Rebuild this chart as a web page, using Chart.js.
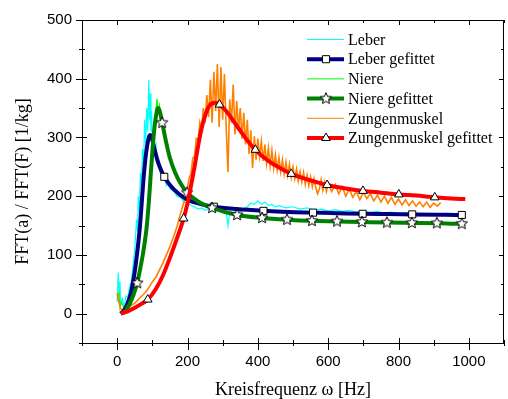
<!DOCTYPE html>
<html>
<head>
<meta charset="utf-8">
<script src="https://cdn.jsdelivr.net/npm/chart.js@4"></script>
<style>
  html, body { margin: 0; padding: 0; background: #fff; overflow: hidden; }
</style>
</head>
<body>
<canvas id="chart" width="508" height="399"></canvas>
<script>
// axis ticks
const xTicks = [0, 200, 400, 600, 800, 1000];
const xMinor = [-100, 100, 300, 500, 700, 900, 1100];
const yTicks = [0, 100, 200, 300, 400, 500];
const yMinor = [-50, 50, 150, 250, 350, 450];

// Leber (measured)
const leberX = [0, 3, 6, 8, 10, 15, 20, 25, 30, 35, 40, 45, 50, 55, 58, 60, 63, 66, 69, 72, 75, 78, 81, 84, 87, 90, 92, 94, 96, 98, 100, 103, 106, 110, 114, 118, 122, 126, 130, 135, 140, 145, 150, 160, 170, 180, 190, 200, 210, 220, 230, 240, 250, 260, 270, 280, 290, 300, 310, 315, 320, 330, 340, 350, 360, 370, 380, 390, 400, 410, 420, 430, 440, 450, 460, 480, 500, 520, 540, 560, 580, 600, 620, 640, 660, 680, 700, 720, 740, 760, 780, 800, 820, 840, 860];
const leberY = [20, 70, 30, 55, 15, 25, 12, 30, 28, 45, 55, 80, 110, 160, 140, 200, 170, 240, 210, 280, 250, 330, 290, 350, 310, 398, 330, 375, 310, 345, 295, 312, 278, 288, 258, 262, 242, 248, 228, 232, 218, 222, 212, 210, 200, 198, 190, 188, 184, 182, 178, 180, 176, 178, 175, 178, 174, 176, 172, 150, 174, 172, 176, 174, 178, 182, 188, 186, 192, 186, 190, 184, 186, 182, 184, 180, 182, 178, 180, 176, 178, 175, 177, 174, 176, 173, 175, 172, 174, 171, 173, 170, 172, 170, 171];

// Leber gefittet
const leberFitX = [10, 20, 30, 40, 50, 60, 65, 70, 75, 80, 85, 90, 94, 98, 105, 115, 125, 134, 150, 175, 200, 235, 275, 340, 416, 487, 557, 628, 698, 769, 839, 910, 980, 990];
const leberFitY = [0, 6, 18, 38, 72, 120, 150, 190, 230, 262, 285, 300, 304, 300, 283, 260, 244, 233, 219, 204, 194, 187, 182, 178, 175, 173, 172, 171, 170, 169.5, 169, 168.5, 168, 168];
const leberMarks = [134, 275, 416, 557, 698, 839, 980];

// Niere (measured)
const niereX = [0, 5, 8, 12, 20, 30, 40, 50, 57, 65, 72, 78, 84, 90, 95, 100, 105, 110, 113, 116, 120, 125, 130, 140, 150, 165, 180, 200, 230, 270, 300, 340, 400, 480, 560, 640, 720, 800, 880, 960];
const niereY = [25, 35, 10, 20, 8, 14, 25, 38, 50, 78, 100, 130, 150, 195, 240, 285, 320, 345, 366, 345, 355, 330, 318, 290, 262, 238, 220, 205, 190, 180, 175, 168, 164, 160, 158, 157, 155, 155, 154, 153];

// Niere gefittet
const niereFitX = [15, 25, 35, 45, 57, 65, 75, 84, 90, 95, 100, 105, 110, 116, 121, 128, 140, 150, 165, 180, 199, 230, 270, 341, 412, 483, 554, 625, 696, 767, 838, 909, 980, 990];
const niereFitY = [0, 6, 16, 30, 52, 75, 108, 148, 190, 233, 275, 310, 335, 350, 345, 325, 290, 265, 240, 222, 206, 191, 180, 168, 163, 160, 158, 157, 156, 155, 154.5, 154, 153, 153];
const niereMarks = [57, 128, 199, 270, 341, 412, 483, 554, 625, 696, 767, 838, 909, 980];

// Zungenmuskel (measured)
const zungeX = [0, 5, 10, 20, 30, 40, 50, 60, 70, 80, 90, 100, 110, 120, 130, 140, 150, 160, 170, 180, 190,
  200, 205, 210, 215, 220, 225, 230, 235, 240, 245, 250, 255, 260, 265, 270, 275, 280, 285, 290, 295,
  300, 305, 310, 315, 320, 325, 330, 335, 340, 345, 350, 355, 360, 365, 370, 375, 380, 385, 390, 395,
  400, 405, 410, 415, 420, 425, 430, 435, 440, 445, 450, 455, 460, 465, 470, 475, 480, 485, 490, 495,
  500, 505, 510, 515, 520, 525, 530, 535, 540, 545, 550, 555, 560, 565, 570, 575, 580, 585, 590, 595,
  600, 610, 620, 630, 640, 650, 660, 670, 680, 690, 700, 710, 720, 730, 740, 750, 760, 770, 780, 790,
  800, 810, 820, 830, 840, 850, 860, 870, 880, 890, 900, 910, 920];
const zungeY = [35, 20, 8, 6, 10, 14, 18, 24, 30, 36, 44, 54, 62, 74, 86, 100, 114, 130, 148, 170, 190,
  214, 232, 238, 265, 268, 298, 295, 325, 312, 350, 325, 372, 335, 398, 325, 412, 345, 425, 318, 420,
  330, 408, 318, 241, 365, 325, 390, 305, 362, 312, 350, 298, 342, 288, 330, 272, 312, 248, 302, 262,
  298, 268, 294, 260, 288, 256, 282, 252, 278, 248, 270, 245, 266, 242, 262, 238, 258, 236, 254, 232,
  250, 230, 246, 226, 242, 224, 240, 220, 236, 218, 233, 216, 230, 214, 204, 212, 228, 210, 224, 208,
  222, 208, 220, 204, 216, 200, 212, 198, 208, 194, 206, 196, 204, 192, 202, 190, 200, 188, 198, 186,
  195, 185, 194, 184, 192, 183, 190, 182, 190, 181, 188, 183, 189];

// Zungenmuskel gefittet
const zungeFitX = [10, 30, 50, 70, 87, 110, 130, 150, 170, 189, 200, 210, 220, 230, 240, 250, 260, 270, 280, 291, 310, 340, 370, 393, 430, 460, 495, 550, 597, 650, 699, 750, 801, 850, 903, 950, 990];
const zungeFitY = [0, 4, 10, 17, 24, 42, 65, 95, 128, 162, 188, 218, 250, 285, 315, 337, 352, 358, 359, 356, 345, 320, 295, 279, 260, 249, 238, 227, 219, 213, 209, 206, 203, 201, 198, 196, 195];
const zungeMarks = [87, 189, 291, 393, 495, 597, 699, 801, 903];

const pts = (xs, ys) => xs.map((x, i) => ({ x: x, y: ys[i] }));

function starImage(r) {
  const s = Math.ceil(r * 2 + 4);
  const c = document.createElement('canvas');
  c.width = s; c.height = s;
  const g = c.getContext('2d');
  g.beginPath();
  for (let i = 0; i < 10; i++) {
    const a = -Math.PI / 2 + i * Math.PI / 5;
    const rr = i % 2 ? r * 0.45 : r;
    g.lineTo(s / 2 + rr * Math.cos(a), s / 2 + rr * Math.sin(a));
  }
  g.closePath();
  g.fillStyle = '#fff';
  g.fill();
  g.strokeStyle = '#000';
  g.lineWidth = 1;
  g.stroke();
  return c;
}
const star = starImage(6);

function rawSet(label, xs, ys, color, width, order) {
  return {
    label, data: pts(xs, ys), borderColor: color, borderWidth: width,
    pointRadius: 0, fill: false, tension: 0, order
  };
}

function fitSet(label, xs, ys, color, marks, style, r, order) {
  return {
    label, data: pts(xs, ys), borderColor: color, borderWidth: 4,
    cubicInterpolationMode: 'monotone', fill: false, order,
    pointStyle: style,
    pointRadius: ctx => (ctx.raw && marks.includes(ctx.raw.x)) ? r : 0,
    pointBackgroundColor: '#fff', pointBorderColor: '#000', pointBorderWidth: 1,
    markR: r
  };
}

const datasets = [
  rawSet('Leber', leberX, leberY, '#00ffff', 1.2, 6),
  fitSet('Leber gefittet', leberFitX, leberFitY, '#000080', leberMarks, 'rect', 5, 3),
  rawSet('Niere', niereX, niereY, '#00ff00', 1.2, 5),
  fitSet('Niere gefittet', niereFitX, niereFitY, '#008000', niereMarks, star, 6, 2),
  rawSet('Zungenmuskel', zungeX, zungeY, '#ff8000', 1.6, 4),
  fitSet('Zungenmuskel gefittet', zungeFitX, zungeFitY, '#ff0000', zungeMarks, 'triangle', 5, 1)
];

// frame, ticks, legend and axis titles
const decor = {
  id: 'decor',
  afterDraw(chart) {
    const { ctx, chartArea: a, scales: { x, y } } = chart;
    ctx.save();
    ctx.strokeStyle = '#000';
    ctx.lineWidth = 1;
    ctx.strokeRect(a.left + 0.5, a.top + 0.5, a.right - a.left - 1, a.bottom - a.top);
    ctx.beginPath();
    const tick = (x1, y1, x2, y2) => { ctx.moveTo(x1, y1); ctx.lineTo(x2, y2); };
    xTicks.forEach(v => {
      const px = Math.round(x.getPixelForValue(v)) + 0.5;
      tick(px, a.bottom - 5, px, a.bottom + 7);
      tick(px, a.top, px, a.top + 5);
    });
    xMinor.forEach(v => {
      const px = Math.round(x.getPixelForValue(v)) + 0.5;
      tick(px, a.bottom - 3, px, a.bottom + 3);
      tick(px, a.top, px, a.top + 3);
    });
    yTicks.forEach(v => {
      const py = Math.round(y.getPixelForValue(v)) + 0.5;
      tick(a.left - 6, py, a.left + 5, py);
      tick(a.right - 5, py, a.right, py);
    });
    yMinor.forEach(v => {
      const py = Math.round(y.getPixelForValue(v)) + 0.5;
      tick(a.left - 3, py, a.left + 3, py);
      tick(a.right - 3, py, a.right, py);
    });
    ctx.stroke();

    // axis titles
    ctx.fillStyle = '#000';
    ctx.font = '18px "Liberation Serif", serif';
    ctx.textAlign = 'center';
    ctx.textBaseline = 'alphabetic';
    ctx.fillText('Kreisfrequenz \u03c9 [Hz]', (a.left + a.right) / 2, 395);
    ctx.save();
    ctx.translate(28, (a.top + a.bottom) / 2);
    ctx.rotate(-Math.PI / 2);
    ctx.fillText('FFT(a) / FFT(F) [1/kg]', 0, 0);
    ctx.restore();

    // legend
    ctx.font = '16px "Liberation Serif", serif';
    ctx.textAlign = 'left';
    ctx.textBaseline = 'middle';
    chart.data.datasets.forEach((ds, i) => {
      const ly = 39.5 + i * 19.7;
      ctx.strokeStyle = ds.borderColor;
      ctx.lineWidth = ds.markR ? ds.borderWidth : 1;
      ctx.beginPath();
      ctx.moveTo(307, ly);
      ctx.lineTo(344, ly);
      ctx.stroke();
      if (ds.markR) {
        ctx.fillStyle = '#fff';
        ctx.strokeStyle = '#000';
        ctx.lineWidth = 1;
        Chart.helpers.drawPoint(ctx, {
          pointStyle: ds.pointStyle, radius: ds.markR, rotation: 0, borderWidth: 1
        }, 326, ly);
      }
      ctx.fillStyle = '#000';
      ctx.fillText(ds.label, 348, ly + 1);
    });
    ctx.restore();
  }
};

new Chart(document.getElementById('chart'), {
  type: 'line',
  data: { datasets },
  options: {
    responsive: false,
    animation: false,
    devicePixelRatio: 1,
    layout: { padding: { top: 20, right: 4, left: 0, bottom: 0 } },
    plugins: { legend: { display: false }, tooltip: { enabled: false } },
    scales: {
      x: {
        type: 'linear', min: -100, max: 1100,
        afterBuildTicks: s => { s.ticks = xTicks.map(v => ({ value: v })); },
        afterFit: s => { s.height = 56; },
        grid: { display: false, drawTicks: false },
        border: { display: false },
        ticks: { color: '#000', padding: 10, maxRotation: 0, callback: v => String(v),
          font: { family: '"Liberation Sans", Arial', size: 15 } }
      },
      y: {
        type: 'linear', min: -50, max: 500,
        afterBuildTicks: s => { s.ticks = yTicks.map(v => ({ value: v })); },
        afterFit: s => { s.width = 82; },
        grid: { display: false, drawTicks: false },
        border: { display: false },
        ticks: { color: '#000', padding: 10, callback: v => String(v),
          font: { family: '"Liberation Sans", Arial', size: 15 } }
      }
    }
  },
  plugins: [decor]
});
</script>
</body>
</html>
